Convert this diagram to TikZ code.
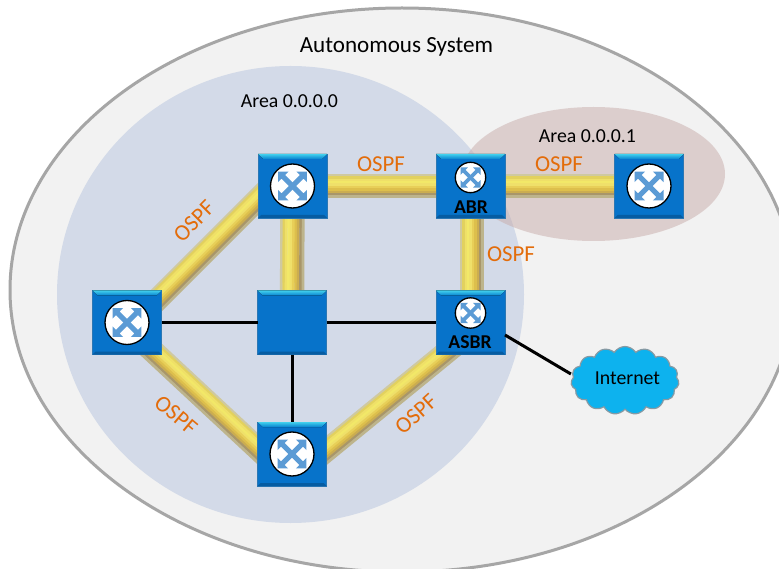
\documentclass[tikz,border=0pt]{standalone}
\usepackage{fontspec}
\setmainfont{Carlito}
\usetikzlibrary{calc,shapes.symbols}
\definecolor{ospfc}{HTML}{E36C0A}
\definecolor{routerc}{HTML}{0773CA}
\definecolor{iconc}{HTML}{5B9BD5}
\definecolor{outerfill}{HTML}{F2F2F2}
\definecolor{outerline}{HTML}{A6A6A6}
\definecolor{areazero}{HTML}{D3DAE8}
\definecolor{areaone}{HTML}{C8ACAA}
\definecolor{cloudc}{HTML}{0DB2EE}
\definecolor{pa}{HTML}{CFC9A0}
\definecolor{pb}{HTML}{E2D15E}
\definecolor{pc}{HTML}{EFE068}
\definecolor{pd}{HTML}{F2E868}
\definecolor{pe}{HTML}{EFE06A}
\definecolor{pf}{HTML}{E8CF58}
\definecolor{pg}{HTML}{DDBF4C}
\definecolor{ph}{HTML}{CBAD50}
\definecolor{pi}{HTML}{A8966A}
\definecolor{pj}{HTML}{BDB48C}
\tikzset{
  rbox/.style={rectangle,draw=routerc!70!gray,fill=routerc,line width=.8pt,minimum width=69pt,minimum height=64pt,inner sep=0pt,outer sep=0pt},
  wire/.style={draw=black,line width=3pt},
  ospf/.style={text=ospfc,font=\fontsize{22.8}{24}\selectfont,inner sep=0pt},
  lbl/.style={text=black,font=\fontsize{19.8}{22}\selectfont,inner sep=0pt},
  tag/.style={text=black,font=\bfseries\fontsize{19.6}{22}\selectfont,inner sep=0pt},
}
\newcommand\rbevel[1]{%
  \fill[top color=routerc!45!cyan!75!white,bottom color=routerc!90!cyan]
    (#1.north west) -- (#1.north east) -- ($(#1.north east)+(-5,5)$) -- ($(#1.north west)+(5,5)$) -- cycle;
  \fill[routerc!80!black]
    (#1.south west) -- (#1.south east) -- ($(#1.south east)+(-3,-3)$) -- ($(#1.south west)+(3,-3)$) -- cycle;
}
\newcommand\ricon[4]{%
  \begin{scope}[shift={(#1)},shift={(#2,#3)},scale=#4]
    \draw[fill=white,draw=black,line width=1.3pt] (0,0) circle (22pt);
    \foreach \r in {45,135,225,315}{
      \begin{scope}[rotate=\r]
        \fill[iconc] (0,-2.6pt) -- (13pt,-2.6pt) -- (13pt,-7.5pt) -- (20.5pt,0) -- (13pt,7.5pt) -- (13pt,2.6pt) -- (0,2.6pt) -- cycle;
      \end{scope}
    }
  \end{scope}
}
\newcommand\pipe[4]{%
  \foreach \o/\c in {-10.8/pa,-8.4/pb,-6/pc,-3.6/pd,-1.2/pe,1.2/pf,3.6/pg,6/ph,8.4/pi,10.8/pj}{
    \draw[draw=\c,line width=2.8pt]
      ($(#1)+(\o*#3,\o*#4)$) -- ($(#2)+(\o*#3,\o*#4)$);
  }
}
\begin{document}
\begin{tikzpicture}[x=1pt,y=-1pt]
\useasboundingbox (0,0) rectangle (779,569);
\fill[white] (0,0) rectangle (779,569);
\begin{scope}
  \clip (0,0) rectangle (779,569);
  \draw[fill=outerfill,draw=outerline,line width=3pt] (402,290) ellipse [x radius=392pt,y radius=282pt];
\end{scope}
\fill[areazero] (290.5,294.5) ellipse [x radius=233.5pt,y radius=228.5pt];
\fill[areaone,fill opacity=.5] (593.5,174) ellipse [x radius=131.5pt,y radius=67pt];

\coordinate (r1) at (292.5,186);
\coordinate (abr) at (470.5,186);
\coordinate (r2) at (649,186);
\coordinate (l) at (127,322.5);
\coordinate (m) at (292,322.5);
\coordinate (asbr) at (470.5,322.5);
\coordinate (b) at (292,454);
\coordinate (pl1) at (140,317);
\coordinate (pr1) at (272,185);
\coordinate (pl2) at (127,327);
\coordinate (pb2) at (272,462);
\coordinate (pb3) at (300,472);
\coordinate (pa3) at (470,333);
\coordinate (pv1) at (472,186);
\coordinate (pv2) at (472,322);

% OSPF pipes
\pipe{r1}{abr}{0}{1}
\pipe{abr}{r2}{0}{1}
\pipe{r1}{m}{1}{0}
\pipe{pv1}{pv2}{1}{0}
\pipe{pl1}{pr1}{0.66}{0.66}
\pipe{pl2}{pb2}{-0.64}{0.69}
\pipe{pb3}{pa3}{0.59}{0.72}

% cloud
\node[cloud,cloud puffs=15,cloud puff arc=115,aspect=1.6,draw=gray!80!cyan,fill=cloudc,line width=1.2pt,minimum width=108pt,minimum height=68pt,inner sep=0pt] (inet) at (625,380.5) {};

% routers
\node[rbox] (R1) at (r1) {};
\node[rbox] (ABR) at (abr) {};
\node[rbox] (R2) at (r2) {};
\node[rbox] (L) at (l) {};
\node[rbox] (M) at (m) {};
\node[rbox] (ASBR) at (asbr) {};
\node[rbox] (B) at (b) {};

% plain links
\draw[wire] (L.east) -- (M.west);
\draw[wire] (M.east) -- (ASBR.west);
\draw[wire] (M.south) -- (B.north);
\draw[wire] (ASBR.east |- 0,335) -- (inet.west |- 0,374);

\rbevel{R1}\rbevel{ABR}\rbevel{R2}\rbevel{L}\rbevel{M}\rbevel{ASBR}\rbevel{B}
\ricon{R1}{0}{0}{1}
\ricon{R2}{0}{0}{1}
\ricon{L}{0}{0}{1}
\ricon{B}{0}{0}{1}
\ricon{ABR}{0}{-8.5}{.69}
\ricon{ASBR}{0}{-9.5}{.69}

\node[tag] (tabr) at (471,207) {ABR};
\node[tag] (tasbr) at (470,342) {ASBR};

\node[lbl,font=\fontsize{23.1}{25}\selectfont] (tas) at (396.5,46.5) {Autonomous System};
\node[lbl] (ta0) at (289.5,101.5) {Area 0.0.0.0};
\node[lbl] (ta1) at (587.5,136) {Area 0.0.0.1};
\node[lbl] (tin) at (627.5,378) {Internet};

\node[ospf] (o1) at (381,164) {OSPF};
\node[ospf] (o2) at (559,164) {OSPF};
\node[ospf] (o3) at (511,254) {OSPF};
\node[ospf,rotate=45] (o4) at (194,221) {OSPF};
\node[ospf,rotate=-40] (o5) at (176,415) {OSPF};
\node[ospf,rotate=42] (o6) at (416,414) {OSPF};
\end{tikzpicture}
\end{document}
